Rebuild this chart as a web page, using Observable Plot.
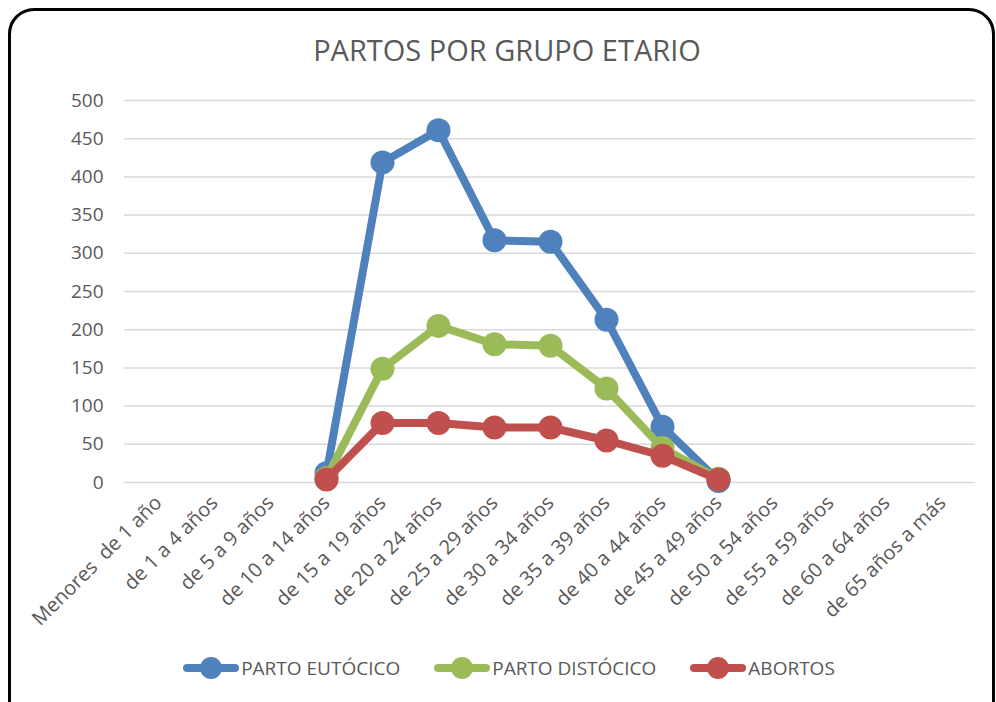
<!DOCTYPE html>
<html>
<head>
<meta charset="utf-8">
<script src="https://cdn.jsdelivr.net/npm/d3@7"></script>
<script src="https://cdn.jsdelivr.net/npm/@observablehq/plot@0.6"></script>
<style>
  html, body { margin: 0; padding: 0; background: #fff; }
  body { width: 996px; height: 702px; overflow: hidden; position: relative; font-family: "Open Sans", sans-serif; color: #595959; }
  #frame { position: absolute; left: 8px; top: 8px; width: 987px; height: 780px; box-sizing: border-box; border: 3px solid #000; border-radius: 26px; pointer-events: none; }
  #title { height: 80px; box-sizing: border-box; padding-top: 30px; padding-left: 18px; text-align: center; font-size: 29px; line-height: 40px; color: #595959; }
  #chart { height: 562px; }
  #legend { display: flex; justify-content: center; gap: 34px; padding-left: 22px; padding-top: 12px; font-size: 19px; line-height: 28px; color: #595959; }
  .item { display: flex; align-items: center; }
  .item svg { margin-right: 2px; }
</style>
</head>
<body>
<div id="title">PARTOS POR GRUPO ETARIO</div>
<div id="chart"></div>
<div id="legend"></div>
<div id="frame"></div>
<script>
const categories = [
  "Menores  de 1 año", "de 1 a 4 años", "de 5 a 9 años", "de 10 a 14 años",
  "de 15 a 19 años", "de 20 a 24 años", "de 25 a 29 años", "de 30 a 34 años",
  "de 35 a 39 años", "de 40 a 44 años", "de 45 a 49 años", "de 50 a 54 años",
  "de 55 a 59 años", "de 60 a 64 años", "de 65 años a más"
];
const seriesNames = ["PARTO EUTÓCICO", "PARTO DISTÓCICO", "ABORTOS"];
const seriesColors = ["#4F81BD", "#9BBB59", "#C0504D"];
const partoEutocico  = [null, null, null, 12, 419, 461, 317, 315, 213, 73, 2, null, null, null, null];
const partoDistocico = [null, null, null, 6, 149, 205, 181, 179, 123, 45, 5, null, null, null, null];
const abortos        = [null, null, null, 4, 78, 78, 72, 72, 55, 35, 4, null, null, null, null];
const yTicks = [0, 50, 100, 150, 200, 250, 300, 350, 400, 450, 500];

const seriesValues = [partoEutocico, partoDistocico, abortos];
const marks = [
  Plot.gridY(yTicks, { stroke: "#d9d9d9", strokeOpacity: 1, strokeWidth: 1.5 }),
  Plot.axisY(yTicks, { tickSize: 0, tickPadding: 21, fontSize: 19, fill: "#595959", label: null }),
  Plot.axisX({ tickSize: 0, tickPadding: 17, tickRotate: -45, fontSize: 20, fill: "#595959", label: null })
];
seriesValues.forEach((vals, i) => {
  const data = categories.map((c, j) => ({ cat: c, v: vals[j] }));
  const defined = data.filter(d => d.v != null);
  marks.push(Plot.line(data, { x: "cat", y: "v", stroke: seriesColors[i], strokeWidth: 8, strokeLinejoin: "round", strokeLinecap: "round" }));
  marks.push(Plot.dot(defined, { x: "cat", y: "v", r: 12, fill: seriesColors[i], stroke: "none" }));
});

const chart = Plot.plot({
  width: 996,
  height: 562,
  marginTop: 20,
  marginBottom: 160,
  marginLeft: 124,
  marginRight: 21,
  style: { fontFamily: "Open Sans, sans-serif", overflow: "visible" },
  x: { type: "point", domain: categories, padding: 0.5 },
  y: { domain: [0, 500] },
  marks
});
document.getElementById("chart").appendChild(chart);

const legend = document.getElementById("legend");
seriesNames.forEach((name, i) => {
  const item = document.createElement("div");
  item.className = "item";
  item.innerHTML = `<svg width="56" height="26" viewBox="0 0 56 26"><line x1="4" y1="13" x2="52" y2="13" stroke="${seriesColors[i]}" stroke-width="8" stroke-linecap="round"/><circle cx="28" cy="13" r="11" fill="${seriesColors[i]}"/></svg><span>${name}</span>`;
  legend.appendChild(item);
});
</script>
</body>
</html>
